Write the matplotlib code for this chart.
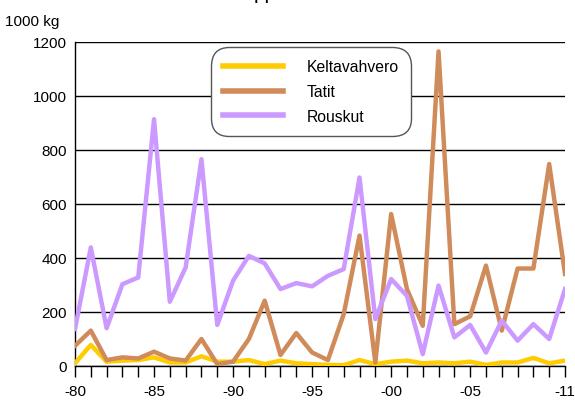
import matplotlib
matplotlib.use("Agg")
import matplotlib.pyplot as plt
import numpy as np

plt.rcParams['font.family'] = ['Liberation Sans', 'DejaVu Sans']

years = np.arange(1980, 2012)

# 1000 kg
keltavahvero = [10, 78, 16, 20, 22, 32, 13, 13, 36, 16, 16, 22, 7, 20, 10, 7,
                4, 3, 22, 7, 16, 20, 10, 13, 10, 16, 4, 13, 13, 30, 10, 20]
tatit = [75, 131, 22, 32, 28, 53, 28, 20, 100, 7, 16, 100, 242, 41, 122, 50,
         22, 192, 483, 13, 563, 285, 149, 1165, 155, 184, 372, 131, 361, 361, 748, 341]
rouskut = [137, 439, 140, 303, 328, 914, 238, 365, 766, 152, 316, 408, 380, 285, 307, 295,
           334, 359, 698, 174, 322, 260, 44, 298, 106, 152, 50, 168, 94, 155, 100, 285]

tick_years = [1980, 1985, 1990, 1995, 2000, 2005, 2011]
tick_labels = ["-80", "-85", "-90", "-95", "-00", "-05", "-11"]

fig = plt.figure(figsize=(5.75, 4.02), dpi=100)
ax = fig.add_axes([75 / 575, 1 - 367 / 402, 490 / 575, 324 / 402])

ax.plot(years, keltavahvero, color="#FFCC00", linewidth=3.2, label="Keltavahvero", zorder=3)
ax.plot(years, tatit, color="#D08B5B", linewidth=3.2, label="Tatit", zorder=3)
ax.plot(years, rouskut, color="#CC99FF", linewidth=3.2, label="Rouskut", zorder=3)

ax.set_xlim(1980, 2011)
ax.set_ylim(0, 1200)
ax.set_yticks(np.arange(0, 1201, 200))
ax.set_xticks(years, minor=True)
ax.set_xticks(tick_years)
ax.set_xticklabels(tick_labels)

ax.grid(axis="y", color="black", linewidth=1)
ax.set_axisbelow(True)
for s in ["top", "right"]:
    ax.spines[s].set_visible(False)
ax.spines["left"].set_linewidth(1)
ax.spines["bottom"].set_linewidth(1)

ax.tick_params(axis="y", length=0, labelsize=11, pad=6)
ax.tick_params(axis="x", which="both", length=8, width=1, direction="out", labelsize=11, pad=5)

leg = ax.legend(loc="upper left", bbox_to_anchor=(0.28, 0.98), fontsize=11.3,
                handlelength=3.8, handletextpad=1.5, borderpad=0.2, borderaxespad=0.5,
                labelspacing=0.62, fancybox=True, framealpha=1, edgecolor="#555555")
leg.get_frame().set_boxstyle("round,pad=0.6,rounding_size=1.2")
leg.get_frame().set_linewidth(1)
for line in leg.get_lines():
    line.set_linewidth(4)

fig.text(5 / 575, 1 - 22 / 402, "1000 kg", fontsize=11, va="center", ha="left")
# title cut off at the top edge, only the descenders remain
fig.text(265 / 575, 1 + 1 / 402, "pp", fontsize=15, ha="center", va="baseline")

fig.savefig("out.png", dpi=100)
